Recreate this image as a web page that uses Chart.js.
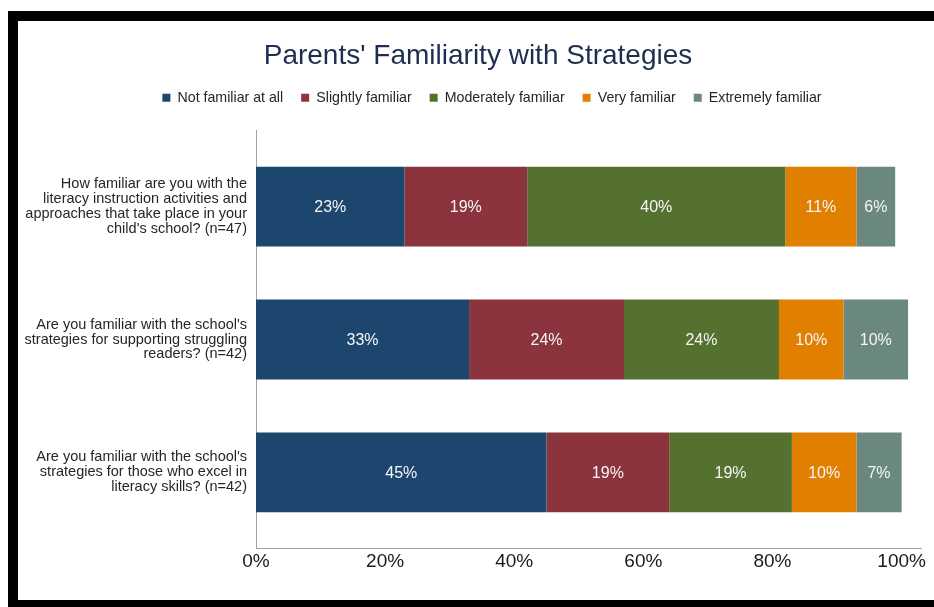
<!DOCTYPE html>
<html>
<head>
<meta charset="utf-8">
<title>Parents' Familiarity with Strategies</title>
<script src="https://cdn.jsdelivr.net/npm/chart.js@4.4.1/dist/chart.umd.min.js"></script>
<style>
  html, body { margin: 0; padding: 0; background: #ffffff; width: 934px; height: 607px; overflow: hidden; }
  #frame {
    position: absolute; left: 8px; top: 11px; width: 926px; height: 596px;
    box-sizing: border-box;
    border-top: 10px solid #000; border-left: 10px solid #000; border-bottom: 7px solid #000;
    background: #ffffff;
  }
  #chart { position: absolute; left: 18px; top: 21px; }
</style>
</head>
<body>
<div id="frame"></div>
<canvas id="chart" width="916" height="579"></canvas>
<script>
// Survey questions (multi-line axis labels)
const questions = [
  ["How familiar are you with the", "literacy instruction activities and", "approaches that take place in your", "child's school? (n=47)"],
  ["Are you familiar with the school's", "strategies for supporting struggling", "readers? (n=42)"],
  ["Are you familiar with the school's", "strategies for those who excel in", "literacy skills? (n=42)"]
];

// Response levels
const levels = ["Not familiar at all", "Slightly familiar", "Moderately familiar", "Very familiar", "Extremely familiar"];
const levelColors = ["#1c466d", "#8c343e", "#55712f", "#e07f00", "#6b8880"];

// Percent of parents per response level, one value per question
const notFamiliar = [23, 33, 45];
const slightlyFamiliar = [19, 24, 19];
const moderatelyFamiliar = [40, 24, 19];
const veryFamiliar = [11, 10, 10];
const extremelyFamiliar = [6, 10, 7];

// Percent axis ticks
const percentTicks = [0, 20, 40, 60, 80, 100];

const seriesValues = [notFamiliar, slightlyFamiliar, moderatelyFamiliar, veryFamiliar, extremelyFamiliar];

const FONT = '"Liberation Sans", Arial, sans-serif';

// White percentage labels centred on every segment
const segmentLabels = {
  id: 'segmentLabels',
  afterDatasetsDraw(chart) {
    const ctx = chart.ctx;
    ctx.save();
    ctx.font = '16px ' + FONT;
    ctx.fillStyle = '#f6f6f6';
    ctx.textAlign = 'center';
    ctx.textBaseline = 'middle';
    chart.data.datasets.forEach((ds, di) => {
      const meta = chart.getDatasetMeta(di);
      meta.data.forEach((bar, i) => {
        const c = bar.getCenterPoint();
        ctx.fillText(ds.data[i].x + '%', c.x, c.y + 1.5);
      });
    });
    ctx.restore();
  }
};

// Extra room under the legend, a small horizontal offset for its row,
// and a wider drawing area for the long question labels
const layoutTweaks = {
  id: 'layoutTweaks',
  beforeInit(chart) {
    const legend = chart.legend;
    const baseFit = legend.fit;
    legend.fit = function () {
      baseFit.call(this);
      this.height += 16;
    };
  },
  afterLayout(chart) {
    chart.legend.left += 14;
    chart.legend.right += 14;
    chart.scales.y.left = 0;
  }
};

const datasets = levels.map((name, k) => ({
  label: name,
  data: seriesValues[k].map((v, i) => ({ x: v, y: i })),
  backgroundColor: levelColors[k],
  borderWidth: 0,
  categoryPercentage: 0.75,
  barPercentage: 0.8
}));

new Chart(document.getElementById('chart'), {
  type: 'bar',
  data: { datasets },
  plugins: [segmentLabels, layoutTweaks],
  options: {
    indexAxis: 'y',
    responsive: false,
    animation: false,
    devicePixelRatio: 1,
    layout: { padding: { left: 17, right: 13, top: 0, bottom: 25 } },
    scales: {
      x: {
        type: 'linear',
        stacked: true,
        min: 0,
        max: 103,
        grid: { display: false, drawTicks: false },
        border: { display: true, color: '#a3a3a3', width: 1 },
        afterBuildTicks(scale) {
          scale.ticks = percentTicks.map(v => ({ value: v }));
        },
        ticks: {
          padding: 2,
          color: '#1a1a1a',
          font: { family: FONT, size: 19 },
          callback: v => v + '%'
        }
      },
      y: {
        type: 'linear',
        stacked: true,
        reverse: true,
        offset: false,
        min: -0.57,
        max: 2.57,
        grid: { display: false, drawTicks: false, offset: false },
        border: { display: true, color: '#a3a3a3', width: 1 },
        afterBuildTicks(scale) {
          scale.ticks = questions.map((q, i) => ({ value: i }));
        },
        afterFit(scale) {
          scale.width = 221;
        },
        ticks: {
          padding: 9,
          color: '#262626',
          font: { family: FONT, size: 14.5, lineHeight: 1.03 },
          callback: v => questions[v]
        }
      }
    },
    plugins: {
      title: {
        display: true,
        text: "Parents' Familiarity with Strategies",
        color: '#1f2e50',
        font: { family: FONT, size: 28, weight: 'normal' },
        padding: { top: 18, bottom: 0 }
      },
      legend: {
        display: true,
        position: 'top',
        labels: {
          boxWidth: 8,
          boxHeight: 8,
          padding: 18,
          color: '#262626',
          font: { family: FONT, size: 14.2 }
        }
      },
      tooltip: { enabled: false }
    }
  }
});
</script>
</body>
</html>
